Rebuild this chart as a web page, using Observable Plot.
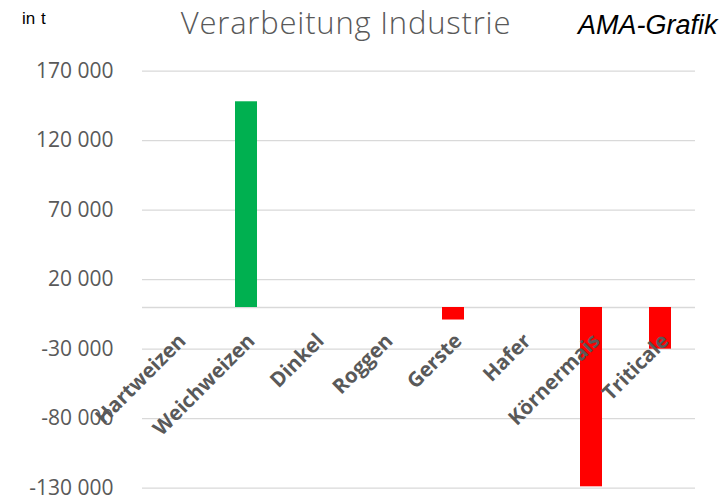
<!DOCTYPE html>
<html>
<head>
<meta charset="utf-8">
<script src="https://cdn.jsdelivr.net/npm/d3@7"></script>
<script src="https://cdn.jsdelivr.net/npm/@observablehq/plot@0.6"></script>
<style>
  body { margin: 0; background: #fff; }
  #wrap { position: relative; width: 727px; height: 498px; overflow: hidden; }
  .ov { position: absolute; white-space: nowrap; }
  #unit { left: 22px; top: 9.5px; font: 17px/17px "Liberation Sans", Arial, sans-serif; color: #000; word-spacing: 1px; }
  #title { left: 0; width: 692px; text-align: center; top: 7px; font-family: "Open Sans", sans-serif; font-weight: 350; font-size: 31px; line-height: 31px; letter-spacing: 0.8px; color: #595959; }
  #source { left: 578px; top: 12px; font: italic 27px/27px "Liberation Sans", Arial, sans-serif; color: #000; }
  svg { overflow: visible; }
</style>
</head>
<body>
<div id="wrap">
  <div id="chart"></div>
  <div class="ov" id="unit">in t</div>
  <div class="ov" id="title">Verarbeitung Industrie</div>
  <div class="ov" id="source">AMA-Grafik</div>
</div>
<script>
const categories = ["Hartweizen", "Weichweizen", "Dinkel", "Roggen", "Gerste", "Hafer", "Körnermais", "Triticale"];
const values = [0, 148000, 0, 0, -9000, 0, -129000, -30000];
const yTicks = [170000, 120000, 70000, 20000, -30000, -80000, -130000];

const data = categories.map((c, i) => ({category: c, value: values[i]})).filter(d => d.value !== 0);
const fmt = v => d3.format(",")(v).replace(/,/g, " ").replace("−", "-");

const chart = Plot.plot({
  width: 727,
  height: 498,
  marginLeft: 142,
  marginRight: 32,
  marginTop: 70.7,
  marginBottom: 10.3,
  style: {background: "transparent", overflow: "visible"},
  x: {domain: categories, paddingInner: 0.68, paddingOuter: 0.34, axis: null},
  y: {domain: [-130000, 170000], axis: null},
  marks: [
    Plot.gridY(yTicks, {stroke: "#d9d9d9", strokeOpacity: 1, strokeWidth: 1.3}),
    Plot.axisY(yTicks, {
      tickSize: 0, tickPadding: 29, tickFormat: fmt, label: null,
      fontSize: 21, fontFamily: "Open Sans", fill: "#595959"
    }),
    Plot.ruleY([0], {stroke: "#d9d9d9", strokeWidth: 1.6}),
    Plot.barY(data, {
      x: "category", y: "value",
      fill: d => d.value > 0 ? "#00B050" : "#FF0000"
    }),
    Plot.text(categories, {
      x: d => d, y: () => 0,
      rotate: -45, textAnchor: "end", dx: 5, dy: 30,
      fontSize: 20.5, fontWeight: "bold", fontFamily: "Open Sans", fill: "#595959"
    })
  ]
});
document.getElementById("chart").append(chart);
</script>
</body>
</html>
